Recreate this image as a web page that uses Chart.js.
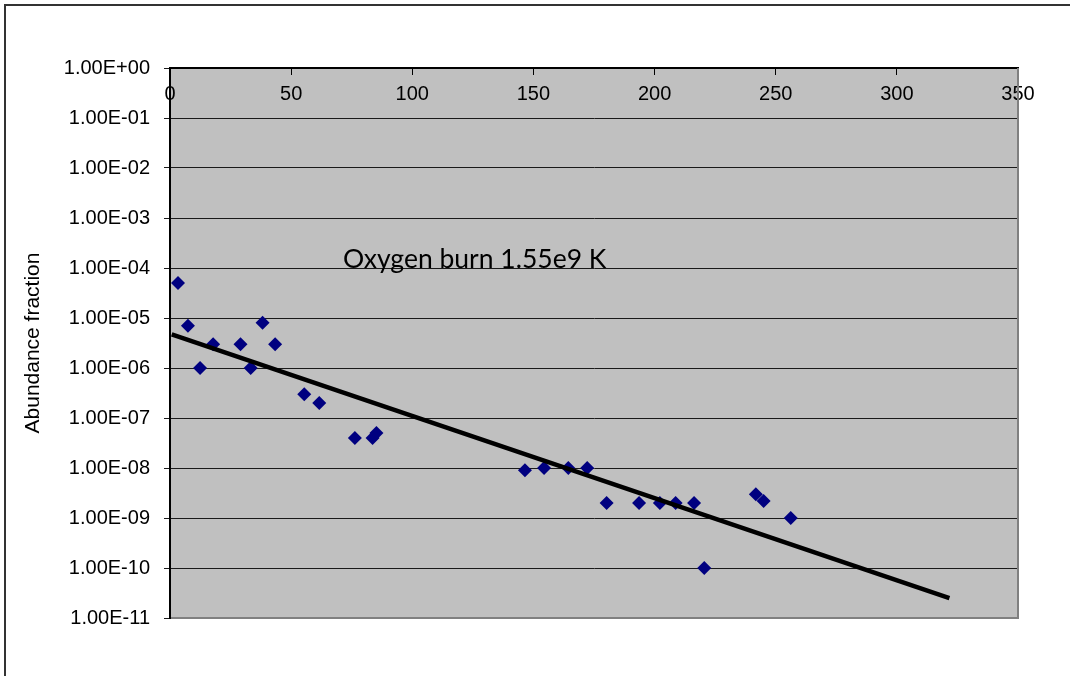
<!DOCTYPE html>
<html>
<head>
<meta charset="utf-8">
<script src="https://cdn.jsdelivr.net/npm/chart.js@4/dist/chart.umd.min.js"></script>
<style>
  html, body { margin: 0; padding: 0; background: #fff; }
  #wrap { position: relative; width: 1070px; height: 676px; overflow: hidden; }
  #frame { position: absolute; left: 4px; top: 4px; width: 1080px; height: 700px;
           border-left: 2px solid #333; border-top: 2px solid #333; }
  canvas { position: absolute; left: 0; top: 0; }
</style>
</head>
<body>
<div id="wrap">
  <div id="frame"></div>
  <canvas id="chart" width="1070" height="676"></canvas>
</div>
<script>
// Data
const massNumbers = [3.3, 7.4, 12.4, 17.8, 29.1, 33.3, 38.2, 43.4, 55.4, 61.6, 76.3, 83.6, 85.2,
  146.5, 154.4, 164.4, 172.2, 180.2, 193.6, 202.2, 208.7, 216.3, 220.5, 241.8, 245.0, 256.2];
const abundance = [5e-5, 7e-6, 1e-6, 3e-6, 3e-6, 1e-6, 8e-6, 3e-6, 3e-7, 2e-7, 4e-8, 4e-8, 5e-8,
  9e-9, 1e-8, 1e-8, 1e-8, 2e-9, 2e-9, 2e-9, 2e-9, 2e-9, 1e-10, 3e-9, 2.2e-9, 1e-9];

// Exponential trendline end points
const trendX = [0.7, 321.7];
const trendY = [4.7e-6, 2.5e-11];

// Axis ticks
const xTickValues = [0, 50, 100, 150, 200, 250, 300, 350];
const yTickValues = [1e0, 1e-1, 1e-2, 1e-3, 1e-4, 1e-5, 1e-6, 1e-7, 1e-8, 1e-9, 1e-10, 1e-11];
const yTickLabels = ['1.00E+00', '1.00E-01', '1.00E-02', '1.00E-03', '1.00E-04', '1.00E-05',
  '1.00E-06', '1.00E-07', '1.00E-08', '1.00E-09', '1.00E-10', '1.00E-11'];

const noteText = 'Oxygen burn 1.55e9 K';
const noteX = 71.4;
const noteY = 1e-4;

// Grey plot area with Excel-like right/bottom border
const plotAreaPlugin = {
  id: 'plotArea',
  beforeDraw(chart) {
    const { ctx, chartArea: a } = chart;
    ctx.save();
    ctx.fillStyle = '#c0c0c0';
    ctx.fillRect(a.left, a.top, a.right - a.left, a.bottom - a.top);
    ctx.restore();
  },
  afterDraw(chart) {
    const { ctx, chartArea: a } = chart;
    ctx.save();
    ctx.strokeStyle = '#808080';
    ctx.lineWidth = 2;
    ctx.beginPath();
    ctx.moveTo(a.right, a.top);
    ctx.lineTo(a.right, a.bottom);
    ctx.lineTo(a.left + 1, a.bottom);
    ctx.stroke();
    ctx.restore();
  }
};

// Text label placed in data coordinates
const notePlugin = {
  id: 'note',
  afterDatasetsDraw(chart) {
    const { ctx, scales: { x, y } } = chart;
    ctx.save();
    ctx.font = '26.5px Lato';
    ctx.fillStyle = '#000';
    ctx.textBaseline = 'alphabetic';
    ctx.fillText(noteText, x.getPixelForValue(noteX), y.getPixelForValue(noteY));
    ctx.restore();
  }
};

const tickFont = { family: '"Liberation Sans", Arial, sans-serif', size: 20 };

new Chart(document.getElementById('chart').getContext('2d'), {
  type: 'scatter',
  data: {
    datasets: [{
      label: 'Trend',
      data: trendX.map((x, i) => ({ x: x, y: trendY[i] })),
      showLine: true,
      borderColor: '#000',
      borderWidth: 4.5,
      pointRadius: 0,
      order: 0
    }, {
      label: 'Abundance',
      data: massNumbers.map((x, i) => ({ x: x, y: abundance[i] })),
      pointStyle: 'rectRot',
      pointRadius: 7,
      backgroundColor: '#000080',
      borderColor: '#000080',
      borderWidth: 0,
      order: 1
    }]
  },
  options: {
    responsive: false,
    animation: false,
    layout: { padding: { left: 0, top: 68, right: 52, bottom: 58 } },
    plugins: {
      legend: { display: false },
      tooltip: { enabled: false }
    },
    scales: {
      x: {
        type: 'linear',
        position: { y: 1 },
        min: 0,
        max: 350,
        afterBuildTicks: s => { s.ticks = xTickValues.map(v => ({ value: v })); },
        ticks: { font: tickFont, color: '#000', padding: 8, maxRotation: 0 },
        grid: { drawOnChartArea: false, tickLength: 6, color: '#000' },
        border: { color: '#000', width: 2 }
      },
      y: {
        type: 'logarithmic',
        min: 1e-11,
        max: 1,
        afterBuildTicks: s => { s.ticks = yTickValues.map(v => ({ value: v })); },
        afterFit: s => { s.width = 170; },
        ticks: {
          font: tickFont,
          color: '#000',
          padding: 14,
          callback: v => yTickLabels[yTickValues.indexOf(v)]
        },
        grid: { color: '#1a1a1a', lineWidth: 1, tickLength: 6 },
        border: { color: '#000', width: 2 },
        title: {
          display: true,
          text: 'Abundance fraction',
          color: '#000',
          font: { family: '"Liberation Sans", Arial, sans-serif', size: 21 },
          padding: { top: 21, bottom: 0 }
        }
      }
    }
  },
  plugins: [plotAreaPlugin, notePlugin]
});
</script>
</body>
</html>
